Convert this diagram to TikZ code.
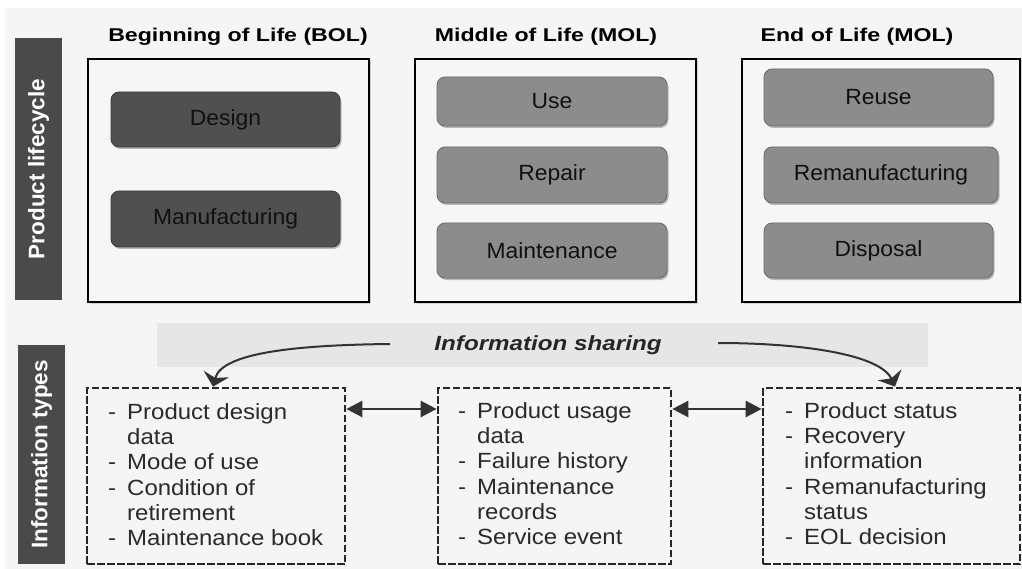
\documentclass[tikz,border=0pt]{standalone}
\usepackage{fontspec}
\setmainfont{Liberation Sans}
\newfontfamily\ftitle{Liberation Sans}[FakeStretch=1.25]
\newfontfamily\fshare{Liberation Sans}[FakeStretch=1.18]
\newfontfamily\flist{Liberation Sans}[FakeStretch=1.09]
\newfontfamily\flabel{Liberation Sans}[FakeStretch=1.04]
\usetikzlibrary{arrows.meta,shadows}
\definecolor{bgc}{HTML}{F5F5F5}
\definecolor{framec}{HTML}{F6F6F6}
\definecolor{barc}{HTML}{4A4A4A}
\definecolor{darkbox}{HTML}{505050}
\definecolor{darkboxline}{HTML}{3A3A3A}
\definecolor{midbox}{HTML}{8C8C8C}
\definecolor{midboxline}{HTML}{6A6A6A}
\definecolor{labeltext}{HTML}{101010}
\definecolor{sharec}{HTML}{E6E6E6}
\definecolor{dashc}{HTML}{262626}
\definecolor{listc}{HTML}{2A2A2A}
\definecolor{arrowc}{HTML}{333333}
\newcommand\lidash{\makebox[19pt][l]{-}}
\newcommand\liind{\hspace*{19pt}}
\begin{document}
\begin{tikzpicture}[x=1pt,y=-1pt,
  frame/.style={draw=black, line width=1.6pt, fill=framec, inner sep=0pt,
    drop shadow={shadow xshift=1.5pt, shadow yshift=-1.5pt, opacity=0.15, fill=black}},
  bar/.style={fill=barc, inner sep=0pt, text=white, rotate=90,
    font=\bfseries\fontsize{22.5}{24}\selectfont},
  lifebox/.style={rounded corners=8pt, line width=0.8pt, inner sep=0pt, text=labeltext,
    font=\flabel\fontsize{22}{24}\selectfont,
    drop shadow={shadow xshift=1.5pt, shadow yshift=-2pt, opacity=0.25, fill=black}},
  bolbox/.style={lifebox, fill=darkbox, draw=darkboxline},
  molbox/.style={lifebox, fill=midbox, draw=midboxline},
  title/.style={anchor=base, inner sep=0pt, font=\ftitle\bfseries\fontsize{18.5}{20}\selectfont},
  infobox/.style={draw=dashc, line width=2.7pt, dash pattern=on 7.5pt off 2.5pt, fill=bgc, inner sep=0pt},
  listtext/.style={anchor=north west, inner sep=0pt, align=left, text=listc,
    font=\flist\fontsize{22}{25.3}\selectfont},
  carrow/.style={draw=arrowc, fill=arrowc, line width=2pt,
    -{Stealth[scale=1, length=13pt, width=26pt, inset=4pt, fill=arrowc]}},
  dblarrow/.style={draw=arrowc, line width=2.6pt,
    {Triangle[length=16pt,width=16pt,fill=arrowc]}-{Triangle[length=16pt,width=16pt,fill=arrowc]}}
]
\useasboundingbox (0,0) rectangle (1022,569);
\fill[white] (0,0) rectangle (1022,569);
\fill[bgc] (5,8) rectangle (1022,569);

% side bars
\node[bar, minimum width=262pt, minimum height=47pt] (barpl) at (38.5,169) {Product lifecycle};
\node[bar, minimum width=219pt, minimum height=47pt] (barit) at (41.5,454.5) {Information types};

% titles
\node[title] (tbol) at (238,42) {Beginning of Life (BOL)};
\node[title] (tmol) at (546,42) {Middle of Life (MOL)};
\node[title] (teol) at (857,42) {End of Life (MOL)};

% frames
\node[frame, minimum width=281pt, minimum height=243pt] (fbol) at (228.5,180.5) {};
\node[frame, minimum width=281pt, minimum height=243pt] (fmol) at (555.5,180.5) {};
\node[frame, minimum width=278pt, minimum height=243pt] (feol) at (881,180.5) {};

% BOL boxes
\node[bolbox, minimum width=229pt, minimum height=55pt] (design) at (225.5,119.5) {Design};
\node[bolbox, minimum width=229pt, minimum height=56pt] (manu) at (225.5,219) {Manufacturing};

% MOL boxes
\node[molbox, minimum width=230pt, minimum height=49pt] (use) at (552,101.5) {Use};
\node[molbox, minimum width=230pt, minimum height=56pt] (repair) at (552,175) {Repair};
\node[molbox, minimum width=230pt, minimum height=55pt] (maint) at (552,250.5) {Maintenance};

% EOL boxes
\node[molbox, minimum width=229pt, minimum height=57pt] (reuse) at (878.5,97.5) {Reuse};
\node[molbox, minimum width=234pt, minimum height=56pt] (reman) at (881,175) {Remanufacturing};
\node[molbox, minimum width=229pt, minimum height=55pt] (disp) at (878.5,250.5) {Disposal};

% information sharing band
\node[fill=sharec, inner sep=0pt, minimum width=771pt, minimum height=44pt] (share) at (542.5,345) {};
\node[anchor=base, inner sep=0pt, text=dashc, font=\fshare\bfseries\itshape\fontsize{20.5}{22}\selectfont] (sharetext) at (548,350.5) {Information sharing};

% info boxes
\node[infobox, minimum width=258pt, minimum height=176pt] (dbol) at (216,476) {};
\node[infobox, minimum width=233pt, minimum height=176pt] (dmol) at (554.5,476) {};
\node[infobox, minimum width=257pt, minimum height=176pt] (deol) at (891.5,476) {};

\node[listtext] (lbol) at (108,403) {\lidash Product design\\ \liind data\\ \lidash Mode of use\\ \lidash Condition of\\ \liind retirement\\ \lidash Maintenance book};
\node[listtext] (lmol) at (458,402) {\lidash Product usage\\ \liind data\\ \lidash Failure history\\ \lidash Maintenance\\ \liind records\\ \lidash Service event};
\node[listtext] (leol) at (785,402) {\lidash Product status\\ \lidash Recovery\\ \liind information\\ \lidash Remanufacturing\\ \liind status\\ \lidash EOL decision};

% connectors
\coordinate (ya) at (0,409);
\draw[dblarrow] (dbol.east |- ya) -- (dmol.west |- ya);
\draw[dblarrow] (dmol.east |- ya) -- (deol.west |- ya);

\coordinate (s1) at (390,344);
\coordinate (s2) at (718,343);
\draw[carrow, fill=none] (s1) .. controls (300,345) and (222,352) .. ([xshift=-3pt]dbol.north);
\draw[carrow, fill=none] (s2) .. controls (800,343) and (880,354) .. ([xshift=3.5pt]deol.north);
\end{tikzpicture}
\end{document}
